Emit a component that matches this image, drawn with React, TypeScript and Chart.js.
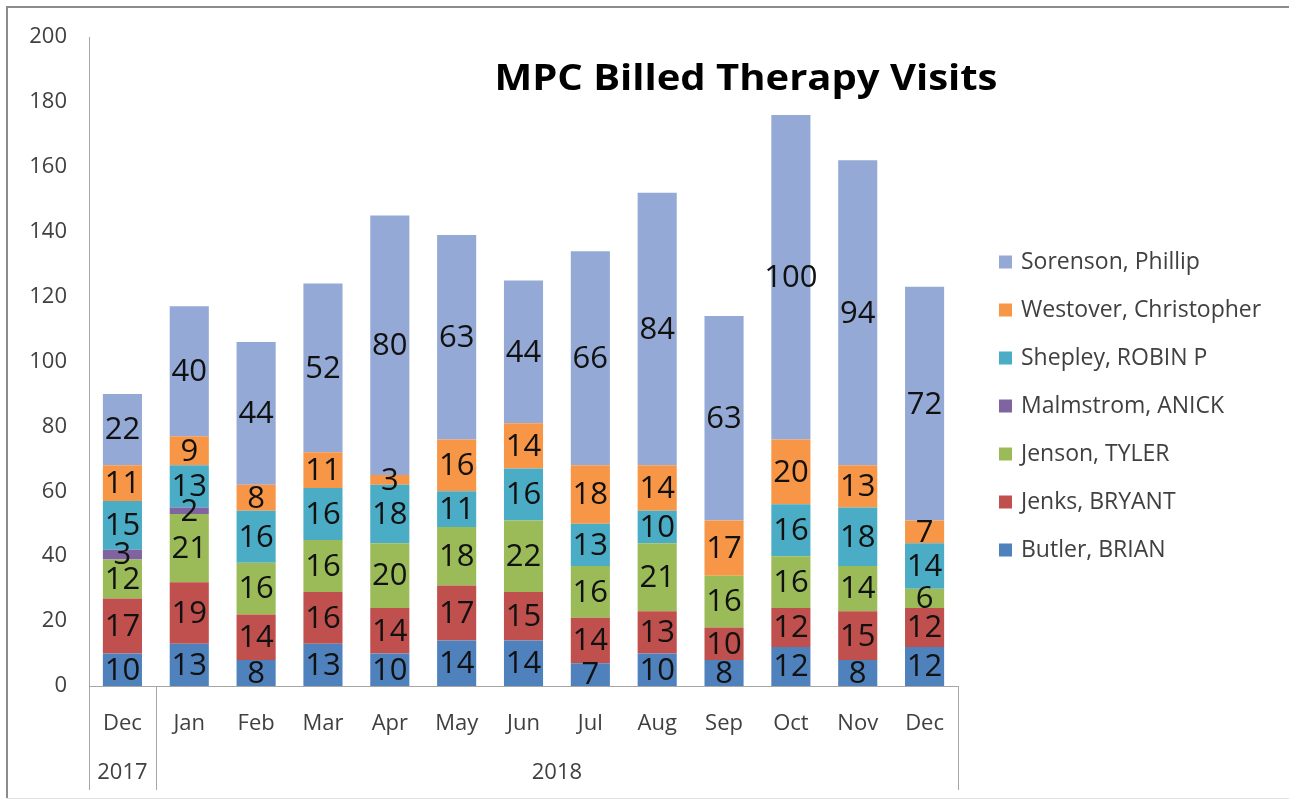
import React, { useEffect, useRef } from "react";
import { Chart, registerables } from "chart.js";

Chart.register(...registerables);

const months = ["Dec", "Jan", "Feb", "Mar", "Apr", "May", "Jun", "Jul", "Aug", "Sep", "Oct", "Nov", "Dec"];
const years = ["2017", "2018"];
const yearSpans = [1, 12];

const butler = [10, 13, 8, 13, 10, 14, 14, 7, 10, 8, 12, 8, 12];
const jenks = [17, 19, 14, 16, 14, 17, 15, 14, 13, 10, 12, 15, 12];
const jenson = [12, 21, 16, 16, 20, 18, 22, 16, 21, 16, 16, 14, 6];
const malmstrom = [3, 2, 0, 0, 0, 0, 0, 0, 0, 0, 0, 0, 0];
const shepley = [15, 13, 16, 16, 18, 11, 16, 13, 10, 0, 16, 18, 14];
const westover = [11, 9, 8, 11, 3, 16, 14, 18, 14, 17, 20, 13, 7];
const sorenson = [22, 40, 44, 52, 80, 63, 44, 66, 84, 63, 100, 94, 72];

const seriesNames = [
  "Butler, BRIAN",
  "Jenks, BRYANT",
  "Jenson, TYLER",
  "Malmstrom, ANICK",
  "Shepley, ROBIN P",
  "Westover, Christopher",
  "Sorenson, Phillip",
];
const seriesColors = ["#4F81BD", "#C0504D", "#9BBB59", "#8064A2", "#4BACC6", "#F79646", "#94A9D5"];
const seriesData = [butler, jenks, jenson, malmstrom, shepley, westover, sorenson];

const yTicks = [0, 20, 40, 60, 80, 100, 120, 140, 160, 180, 200];

const FONT = "'Open Sans', 'Liberation Sans', sans-serif";
const AXIS_COLOR = "#A6A6A6";
const TEXT_COLOR = "#404040";
const TITLE = "MPC Billed Therapy Visits";

const decorPlugin = {
  id: "decor",
  beforeDraw(chart: any) {
    const ctx = chart.ctx;
    ctx.save();
    ctx.fillStyle = "#FFFFFF";
    ctx.fillRect(0, 0, chart.width, chart.height);
    ctx.strokeStyle = "#8C8C8C";
    ctx.lineWidth = 2;
    ctx.beginPath();
    ctx.moveTo(7, chart.height - 3);
    ctx.lineTo(7, 7);
    ctx.lineTo(chart.width - 2, 7);
    ctx.stroke();
    ctx.strokeStyle = "#E0E0E0";
    ctx.lineWidth = 1;
    ctx.beginPath();
    ctx.moveTo(7, chart.height - 2.5);
    ctx.lineTo(chart.width - 2, chart.height - 2.5);
    ctx.stroke();
    ctx.restore();
  },
  afterDraw(chart: any) {
    const ctx = chart.ctx;
    const area = chart.chartArea;
    const xs = chart.scales.x;
    ctx.save();
    // multi-level category separators
    ctx.strokeStyle = AXIS_COLOR;
    ctx.lineWidth = 1;
    const bottomY = 790;
    const bounds: number[] = [area.left];
    let idx = 0;
    yearSpans.forEach((span) => {
      idx += span;
      if (idx < months.length) {
        const b = (xs.getPixelForValue(idx - 1) + xs.getPixelForValue(idx)) / 2;
        bounds.push(b);
      } else {
        bounds.push(area.right);
      }
    });
    bounds.forEach((b) => {
      const xx = Math.round(b) + 0.5;
      ctx.beginPath();
      ctx.moveTo(xx, area.bottom);
      ctx.lineTo(xx, bottomY);
      ctx.stroke();
    });
    // year labels
    ctx.fillStyle = TEXT_COLOR;
    ctx.font = `22px ${FONT}`;
    ctx.textAlign = "center";
    ctx.textBaseline = "middle";
    years.forEach((yr, i) => {
      ctx.fillText(yr, (bounds[i] + bounds[i + 1]) / 2, 773);
    });

    // data labels
    ctx.fillStyle = "#111111";
    ctx.font = `31px ${FONT}`;
    chart.data.datasets.forEach((ds: any, di: number) => {
      const meta = chart.getDatasetMeta(di);
      meta.data.forEach((bar: any, i: number) => {
        const v = ds.data[i];
        if (!v) return;
        const cy = (bar.y + bar.base) / 2;
        ctx.fillText(String(v), bar.x, cy + 1);
      });
    });

    // title
    ctx.fillStyle = "#000000";
    ctx.font = `bold 36px ${FONT}`;
    ctx.textAlign = "center";
    ctx.textBaseline = "alphabetic";
    const tw = ctx.measureText(TITLE).width;
    const sx = 503 / tw;
    ctx.save();
    ctx.translate(746, 90);
    ctx.scale(sx, 1);
    ctx.fillText(TITLE, 0, 0);
    ctx.restore();

    // legend
    ctx.textAlign = "left";
    ctx.textBaseline = "middle";
    ctx.font = `23px ${FONT}`;
    const n = chart.data.datasets.length;
    for (let k = 0; k < n; k++) {
      const di = n - 1 - k;
      const ds = chart.data.datasets[di];
      const cy = 262 + k * 48;
      ctx.fillStyle = ds.backgroundColor;
      ctx.fillRect(999, cy - 6.5, 13, 13);
      ctx.fillStyle = TEXT_COLOR;
      ctx.fillText(ds.label, 1021, cy);
    }
    ctx.restore();
  },
};

export default function App() {
  const canvasRef = useRef<HTMLCanvasElement | null>(null);

  useEffect(() => {
    document.body.style.margin = "0";
    const canvas = canvasRef.current;
    if (!canvas) return;
    const chart = new Chart(canvas, {
      type: "bar",
      data: {
        labels: months,
        datasets: seriesData.map((d, i) => ({
          label: seriesNames[i],
          data: d,
          backgroundColor: seriesColors[i],
          borderWidth: 0,
          barPercentage: 0.585,
          categoryPercentage: 1,
        })),
      },
      options: {
        animation: false,
        responsive: false,
        maintainAspectRatio: false,
        devicePixelRatio: 1,
        layout: { padding: { left: 0, top: 37, right: 333, bottom: 11 } },
        plugins: {
          legend: { display: false },
          title: { display: false },
          tooltip: { enabled: false },
        },
        scales: {
          x: {
            stacked: true,
            grid: { display: false },
            border: { display: true, color: AXIS_COLOR, width: 1 },
            ticks: {
              color: TEXT_COLOR,
              font: { family: FONT, size: 22 },
              padding: 17,
              maxRotation: 0,
              autoSkip: false,
            },
            afterFit: (scale: any) => {
              scale.height = 104;
            },
          },
          y: {
            stacked: true,
            min: 0,
            max: 200,
            grid: { display: false },
            border: { display: true, color: AXIS_COLOR, width: 1 },
            afterBuildTicks: (scale: any) => {
              scale.ticks = yTicks.map((v) => ({ value: v }));
            },
            ticks: {
              color: TEXT_COLOR,
              font: { family: FONT, size: 22 },
              padding: 14,
            },
            afterFit: (scale: any) => {
              scale.width = 89;
            },
          },
        },
      },
      plugins: [decorPlugin],
    });
    return () => chart.destroy();
  }, []);

  return (
    <div style={{ width: 1291, height: 801 }}>
      <canvas ref={canvasRef} width={1291} height={801} style={{ width: 1291, height: 801, display: "block" }} />
    </div>
  );
}
